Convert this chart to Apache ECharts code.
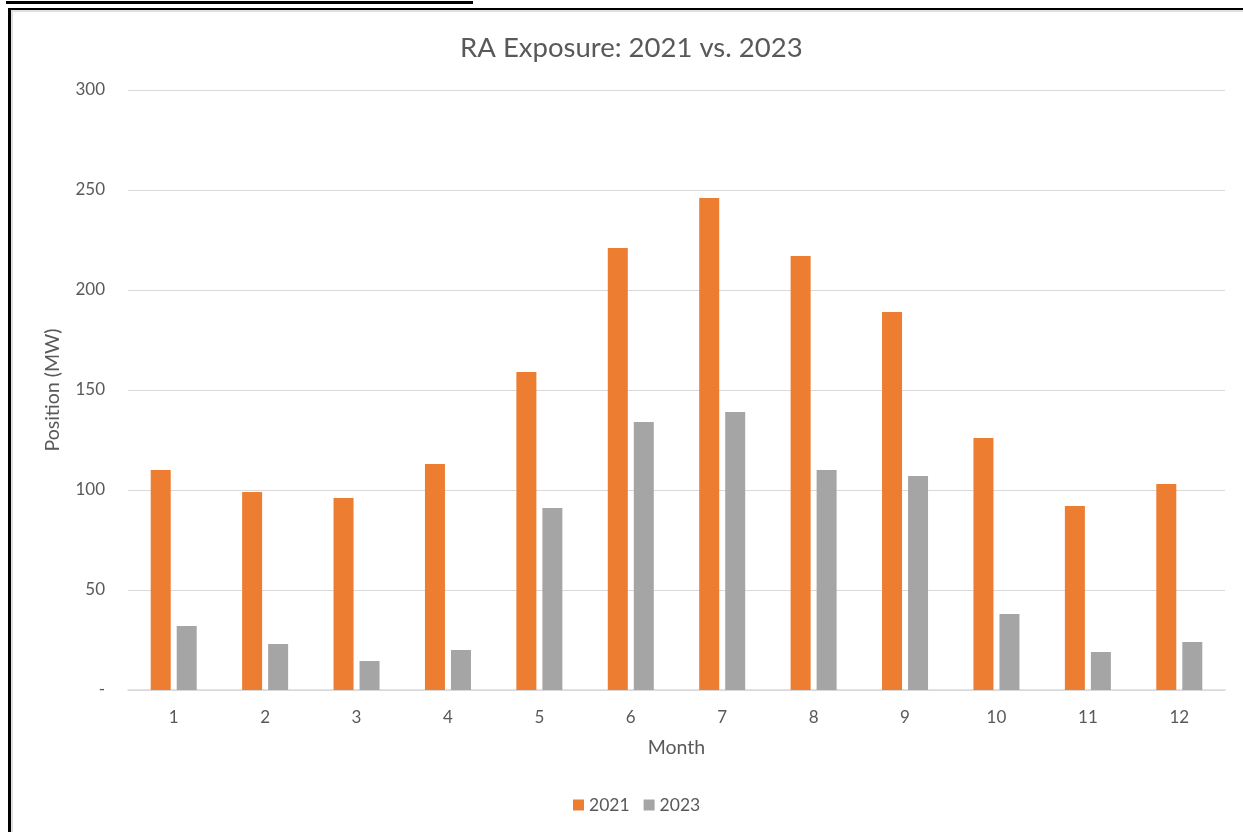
<!DOCTYPE html>
<html><head><meta charset="utf-8">
<script src="https://cdn.jsdelivr.net/npm/echarts@6/dist/echarts.min.js"></script>
<style>html,body{margin:0;padding:0;background:#fff}#c{width:1243px;height:832px}</style>
</head><body><div id="c"></div>
<script>
const months = ['1','2','3','4','5','6','7','8','9','10','11','12'];
const v2021 = [110, 99, 96, 113, 159, 221, 246, 217, 189, 126, 92, 103];
const v2023 = [32, 23, 14.5, 20, 91, 134, 139, 110, 107, 38, 19, 24];
const yTicks = [0, 50, 100, 150, 200, 250, 300];

const font = 'Lato, "Open Sans", sans-serif';
const chart = echarts.init(document.getElementById('c'));
chart.setOption({
  animation: false,
  title: { text: 'RA Exposure: 2021 vs. 2023', left: 455, top: 29,
    textStyle: { fontFamily: font, fontSize: 27.5, fontWeight: 'normal', color: '#595959' } },
  grid: { left: 128, right: 18, top: 90, bottom: 142 },
  legend: { bottom: 13, left: 568, itemWidth: 11, itemHeight: 11, itemGap: 14,
    icon: 'rect', textStyle: { fontFamily: font, fontSize: 17.5, color: '#595959' },
    data: ['2021', '2023'] },
  xAxis: { type: 'category', data: months, name: 'Month', nameLocation: 'middle', nameGap: 48,
    nameTextStyle: { fontFamily: font, fontSize: 19.5, color: '#595959' },
    axisLine: { lineStyle: { color: '#d9d9d9', width: 1.5 } }, axisTick: { show: false },
    axisLabel: { fontFamily: font, fontSize: 17, color: '#595959', margin: 19 } },
  yAxis: { type: 'value', min: 0, max: 300, interval: 50, name: 'Position (MW)',
    nameLocation: 'middle', nameGap: 65,
    nameTextStyle: { fontFamily: font, fontSize: 19.5, color: '#595959' },
    axisLine: { show: false }, axisTick: { show: false },
    splitLine: { lineStyle: { color: '#d9d9d9', width: 1.2 } },
    axisLabel: { fontFamily: font, fontSize: 17, color: '#595959', margin: 23,
      formatter: v => yTicks.includes(v) ? (v === 0 ? '-' : String(v)) : '' } },
  series: [
    { name: '2021', type: 'bar', data: v2021, barWidth: 20, barGap: '30%',
      itemStyle: { color: '#ed7d31' } },
    { name: '2023', type: 'bar', data: v2023, barWidth: 20,
      itemStyle: { color: '#a5a5a5' } }
  ],
  graphic: [
    { type: 'rect', shape: { x: 6, y: 1, width: 467, height: 3 }, style: { fill: '#000' } },
    { type: 'rect', shape: { x: 8, y: 10, width: 1235, height: 2 }, style: { fill: '#e0e0e0' } },
    { type: 'rect', shape: { x: 11, y: 10, width: 2, height: 822 }, style: { fill: '#e0e0e0' } },
    { type: 'rect', shape: { x: 8, y: 8, width: 1235, height: 2 }, style: { fill: '#000' } },
    { type: 'rect', shape: { x: 8, y: 8, width: 3, height: 824 }, style: { fill: '#000' } }
  ]
});
</script></body></html>
